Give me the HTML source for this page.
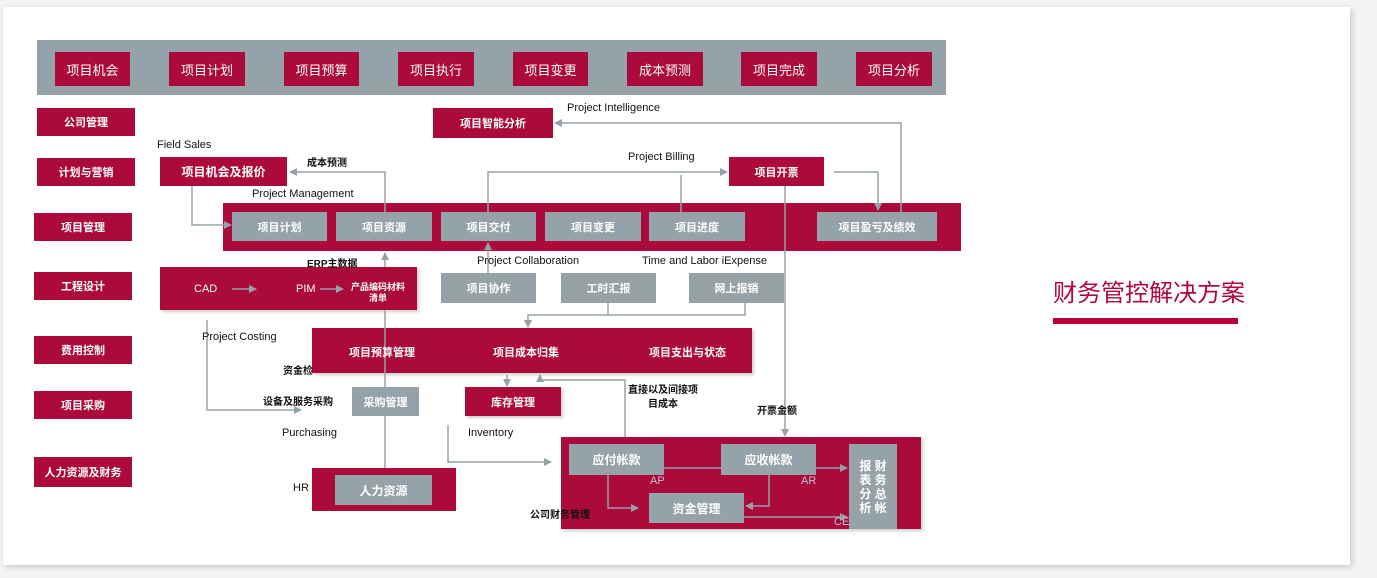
<!DOCTYPE html>
<html><head><meta charset="utf-8"><style>
body{margin:0;width:1377px;height:578px;background:#f4f4f4;position:relative;overflow:hidden;font-family:"Liberation Sans","Noto Sans CJK SC",sans-serif;}
.card{position:absolute;left:3px;top:7px;width:1347px;height:558px;background:#fff;box-shadow:2px 2px 6px rgba(0,0,0,.18);}
.b{position:absolute;display:flex;align-items:center;justify-content:center;color:#fff;font-weight:bold;font-size:11px;}
.r{background:#ab0a3b;}
.g{background:#95a2a9;}
.t{position:absolute;font-size:11px;color:#111;white-space:nowrap;}
.top{font-size:13px;font-weight:normal;}
svg{position:absolute;left:0;top:0;}
</style></head><body>
<div class="card"></div>
<div class="b g" style="left:37px;top:40px;width:909px;height:55px"></div>
<div class="b r top" style="left:55px;top:52px;width:75px;height:34px">项目机会</div>
<div class="b r top" style="left:169px;top:52px;width:76px;height:34px">项目计划</div>
<div class="b r top" style="left:284px;top:52px;width:75px;height:34px">项目预算</div>
<div class="b r top" style="left:398px;top:52px;width:76px;height:34px">项目执行</div>
<div class="b r top" style="left:513px;top:52px;width:75px;height:34px">项目变更</div>
<div class="b r top" style="left:627px;top:52px;width:76px;height:34px">成本预测</div>
<div class="b r top" style="left:741px;top:52px;width:76px;height:34px">项目完成</div>
<div class="b r top" style="left:856px;top:52px;width:76px;height:34px">项目分析</div>

<div class="b r" style="left:37px;top:108px;width:98px;height:28px">公司管理</div>
<div class="b r" style="left:37px;top:158px;width:98px;height:28px">计划与营销</div>
<div class="b r" style="left:34px;top:213px;width:98px;height:28px">项目管理</div>
<div class="b r" style="left:34px;top:272px;width:98px;height:28px">工程设计</div>
<div class="b r" style="left:34px;top:336px;width:98px;height:28px">费用控制</div>
<div class="b r" style="left:34px;top:391px;width:98px;height:28px">项目采购</div>
<div class="b r" style="left:34px;top:457px;width:98px;height:30px">人力资源及财务</div>

<div class="b r" style="left:223px;top:203px;width:738px;height:48px"></div>
<div class="b r" style="left:312px;top:328px;width:440px;height:45px;box-shadow:2px 2px 3px rgba(0,0,0,.2)"></div>
<div class="b r" style="left:561px;top:437px;width:360px;height:92px;box-shadow:2px 2px 3px rgba(0,0,0,.2)"></div>
<div class="b r" style="left:160px;top:267px;width:257px;height:43px;box-shadow:2px 2px 3px rgba(0,0,0,.2)"></div>
<div class="b r" style="left:312px;top:468px;width:144px;height:43px"></div>

<svg width="1377" height="578">
<defs><marker id="a" markerWidth="8" markerHeight="8" refX="7" refY="4" orient="auto" markerUnits="userSpaceOnUse"><path d="M0,0L8,4L0,8z" fill="#95a2a9"/></marker></defs>
<g stroke="#95a2a9" stroke-width="1.5" fill="none">
<path d="M901,212V123H555" marker-end="url(#a)"/>
<path d="M385,212V172H290" marker-end="url(#a)"/>
<path d="M192,186V225H231" marker-end="url(#a)"/>
<path d="M488,212V172H727" marker-end="url(#a)"/>
<path d="M681,212V175"/>
<path d="M834,172H878V210" marker-end="url(#a)"/>
<path d="M785,186V436" marker-end="url(#a)"/>
<path d="M385,267V253" marker-end="url(#a)"/>
<path d="M385,310V468"/>
<path d="M488,273V243" marker-end="url(#a)"/>
<path d="M608,303V315H745V303M608,315H528V327" marker-end="url(#a)"/>
<path d="M207,320V410H301" marker-end="url(#a)"/>
<path d="M625,437V380H540V375" marker-end="url(#a)"/>
<path d="M507,375V386" marker-end="url(#a)"/>
<path d="M448,425V462H551" marker-end="url(#a)"/>
<path d="M664,468H721"/>
<path d="M816,468H847" marker-end="url(#a)"/>
<path d="M608,475V508H638" marker-end="url(#a)"/>
<path d="M769,475V506H746" marker-end="url(#a)"/>
<path d="M744,517H847" marker-end="url(#a)"/>
<path d="M232,289H256" marker-end="url(#a)"/>
<path d="M320,289H343" marker-end="url(#a)"/>
</g></svg>

<div class="b r" style="left:433px;top:108px;width:120px;height:30px">项目智能分析</div>
<div class="b r" style="left:160px;top:157px;width:127px;height:29px;font-size:12px">项目机会及报价</div>
<div class="b r" style="left:729px;top:157px;width:95px;height:29px">项目开票</div>
<div class="b g" style="left:232px;top:212px;width:95px;height:29px">项目计划</div>
<div class="b g" style="left:336px;top:212px;width:96px;height:29px">项目资源</div>
<div class="b g" style="left:441px;top:212px;width:95px;height:29px">项目交付</div>
<div class="b g" style="left:545px;top:212px;width:96px;height:29px">项目变更</div>
<div class="b g" style="left:649px;top:212px;width:96px;height:29px">项目进度</div>
<div class="b g" style="left:817px;top:212px;width:120px;height:29px">项目盈亏及绩效</div>
<div class="b g" style="left:441px;top:273px;width:95px;height:30px">项目协作</div>
<div class="b g" style="left:561px;top:273px;width:95px;height:30px">工时汇报</div>
<div class="b g" style="left:689px;top:273px;width:95px;height:30px">网上报销</div>
<div class="b g" style="left:352px;top:387px;width:67px;height:29px">采购管理</div>
<div class="b r" style="left:465px;top:387px;width:96px;height:29px;box-shadow:2px 2px 3px rgba(0,0,0,.2)">库存管理</div>
<div class="b g" style="left:335px;top:475px;width:97px;height:30px;font-size:12px">人力资源</div>
<div class="b g" style="left:569px;top:444px;width:95px;height:31px;font-size:12px">应付帐款</div>
<div class="b g" style="left:721px;top:444px;width:95px;height:31px;font-size:12px">应收帐款</div>
<div class="b g" style="left:649px;top:493px;width:95px;height:30px;font-size:12px">资金管理</div>
<div class="b g" style="left:849px;top:444px;width:48px;height:85px;font-size:12px;line-height:14px;text-align:center">报 财<br>表 务<br>分 总<br>析 帐</div>

<div class="t" style="left:194px;top:283px;color:#fff;font-size:11px">CAD</div>
<div class="t" style="left:296px;top:283px;color:#fff">PIM</div>
<div class="t" style="left:351px;top:282px;color:#fff;font-size:9px;font-weight:bold;text-align:center;line-height:11px">产品编码材料<br>清单</div>
<div class="t" style="left:349px;top:344px;color:#fff;font-weight:bold">项目预算管理</div>
<div class="t" style="left:493px;top:344px;color:#fff;font-weight:bold">项目成本归集</div>
<div class="t" style="left:649px;top:344px;color:#fff;font-weight:bold">项目支出与状态</div>

<div class="t" style="left:567px;top:102px">Project Intelligence</div>
<div class="t" style="left:157px;top:139px">Field Sales</div>
<div class="t" style="left:307px;top:154px;font-weight:bold;font-size:10px">成本预测</div>
<div class="t" style="left:628px;top:151px">Project Billing</div>
<div class="t" style="left:252px;top:188px">Project Management</div>
<div class="t" style="left:307px;top:255px;font-weight:bold;font-size:10px">ERP主数据</div>
<div class="t" style="left:477px;top:255px">Project Collaboration</div>
<div class="t" style="left:642px;top:255px">Time and Labor iExpense</div>
<div class="t" style="left:202px;top:331px">Project Costing</div>
<div class="t" style="left:283px;top:362px;font-weight:bold;font-size:10px">资金检</div>
<div class="t" style="left:263px;top:393px;font-weight:bold;font-size:10px">设备及服务采购</div>
<div class="t" style="left:628px;top:384px;font-weight:bold;font-size:10px;text-align:center;line-height:14px">直接以及间接项<br>目成本</div>
<div class="t" style="left:757px;top:402px;font-weight:bold;font-size:10px">开票金额</div>
<div class="t" style="left:282px;top:427px">Purchasing</div>
<div class="t" style="left:468px;top:427px">Inventory</div>
<div class="t" style="left:293px;top:482px">HR</div>
<div class="t" style="left:530px;top:506px;font-weight:bold;font-size:10px">公司财务管理</div>
<div class="t" style="left:650px;top:475px;color:#b9c7d6">AP</div>
<div class="t" style="left:801px;top:475px;color:#b9c7d6">AR</div>
<div class="t" style="left:834px;top:516px;color:#b9c7d6">CE</div>

<div class="t" style="left:1053px;top:273px;font-size:24px;color:#b0083e">财务管控解决方案</div>
<div style="position:absolute;left:1053px;top:318px;width:185px;height:6px;background:#b8003a"></div>
</body></html>
